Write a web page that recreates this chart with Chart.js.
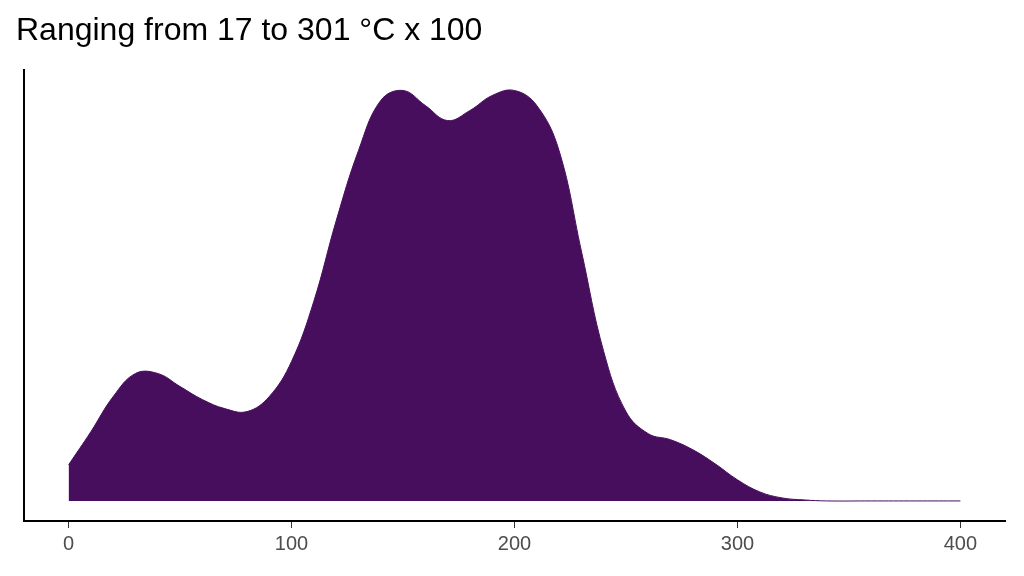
<!DOCTYPE html>
<html><head><meta charset="utf-8">
<script src="https://cdn.jsdelivr.net/npm/chart.js@4/dist/chart.umd.min.js"></script>
<style>html,body{margin:0;padding:0;background:#fff}#w{width:1024px;height:576px}</style>
</head><body><div id="w"><canvas id="c"></canvas></div>
<script>
const xs=[0,10,20,30,40,50,60,70,80,90,100,110,120,130,140,150,160,170,180,190,200,210,220,230,240,250,260,270,280,290,300,310,320,330,340,360,380,400];
const density=[36,69,104,127,127,114,101,92,89,104,139,199,279,349,399,409,394,379,389,404,409,394,349,249,149,89,67,61,51,37,21,9,3,1,0,0,0,0];
const xTicks=[0,100,200,300,400];
new Chart(document.getElementById('c'),{
type:'line',
data:{datasets:[{data:xs.map((x,i)=>({x:x,y:density[i]})),fill:'origin',backgroundColor:'#470E5D',borderColor:'#470E5D',borderWidth:1,pointRadius:0,tension:0.4}]},
options:{responsive:true,maintainAspectRatio:false,animation:false,
layout:{padding:{left:16,right:19,top:0,bottom:16}},
plugins:{legend:{display:false},tooltip:{enabled:false},
title:{display:true,text:'Ranging from 17 to 301 °C x 100',align:'start',color:'#000',font:{family:'Liberation Sans, Arial',size:32,weight:'normal'},padding:{top:12,bottom:20}}},
scales:{
x:{type:'linear',min:-20,max:420,afterBuildTicks:a=>{a.ticks=xTicks.map(v=>({value:v}))},
grid:{display:true,drawOnChartArea:false,tickLength:7,color:'#333'},border:{color:'#000',width:2},
ticks:{color:'#4d4d4d',font:{family:'Liberation Sans, Arial',size:20},padding:4}},
y:{min:-20,max:429,grid:{display:false},border:{color:'#000',width:2},ticks:{display:false}}
}}});
</script></body></html>
